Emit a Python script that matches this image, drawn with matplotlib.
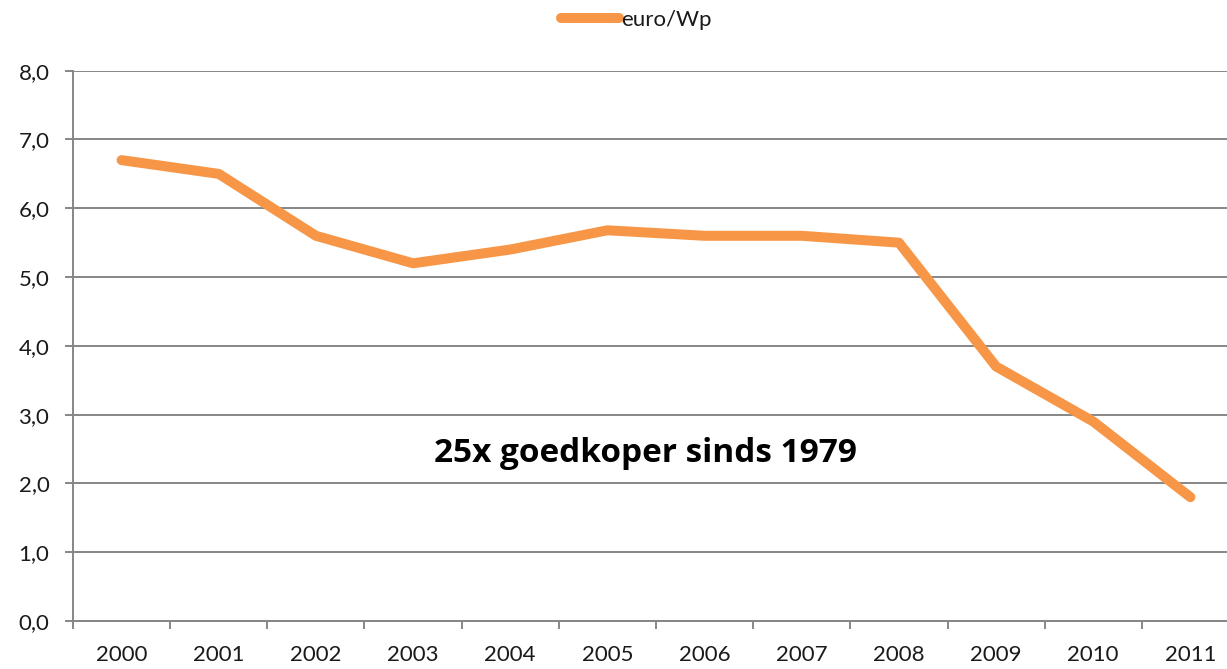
import matplotlib
matplotlib.use("Agg")
import matplotlib.pyplot as plt
from matplotlib.ticker import FixedLocator, FuncFormatter

years = ["2000", "2001", "2002", "2003", "2004", "2005", "2006", "2007", "2008", "2009", "2010", "2011"]
euro_per_wp = [6.7, 6.5, 5.6, 5.2, 5.4, 5.68, 5.6, 5.6, 5.5, 3.7, 2.9, 1.8]
series_name = "euro/Wp"
annotation = "25x goedkoper sinds 1979"

plt.rcParams['font.family'] = ['Lato', 'DejaVu Sans']

W, H = 1227, 669
fig = plt.figure(figsize=(W / 100, H / 100), dpi=100)
left, right, bottom, top = 73, 1239, 621, 70.7
ax = fig.add_axes([left / W, 1 - bottom / H, (right - left) / W, (bottom - top) / H])

x = list(range(len(years)))
line_color = "#F79646"
grid_color = "#868686"
text_color = "#1a1a1a"

ax.plot(x, euro_per_wp, color=line_color, lw=7.2, solid_capstyle='round',
        solid_joinstyle='round', label=series_name, zorder=3)

ax.set_xlim(-0.5, len(years) - 0.5)
ax.set_ylim(0, 8)
ax.yaxis.set_major_locator(FixedLocator([0, 1, 2, 3, 4, 5, 6, 7, 8]))
ax.yaxis.set_major_formatter(FuncFormatter(lambda v, p: f"{v:.1f}".replace(".", ",")))
ax.grid(axis='y', color=grid_color, lw=1.4, zorder=1)
ax.set_axisbelow(True)

ax.set_xticks(x)
ax.set_xticklabels(years)
ax.xaxis.set_minor_locator(FixedLocator([i - 0.5 for i in range(len(years) + 1)]))

for s in ['top', 'right']:
    ax.spines[s].set_visible(False)
for s in ['left', 'bottom']:
    ax.spines[s].set_color(grid_color)
    ax.spines[s].set_linewidth(1.4)

ax.tick_params(axis='x', which='major', length=0, pad=17, labelsize=16, labelcolor=text_color)
ax.tick_params(axis='x', which='minor', length=6, width=1.4, color=grid_color, direction='out')
ax.tick_params(axis='y', which='major', length=6, width=1.4, color=grid_color, pad=11,
               labelsize=16, labelcolor=text_color)

ax.text(5.39, 2.31, annotation, fontsize=24, fontweight='bold', color='black',
        ha='center', va='baseline', family=['Open Sans', 'DejaVu Sans'])

fig.legend(loc='center', bbox_to_anchor=(636 / W, 1 - 20 / H), frameon=False,
           fontsize=16, handlelength=2.6, handletextpad=0.1, labelcolor=text_color)

fig.savefig("out.png", dpi=100, facecolor='white')
